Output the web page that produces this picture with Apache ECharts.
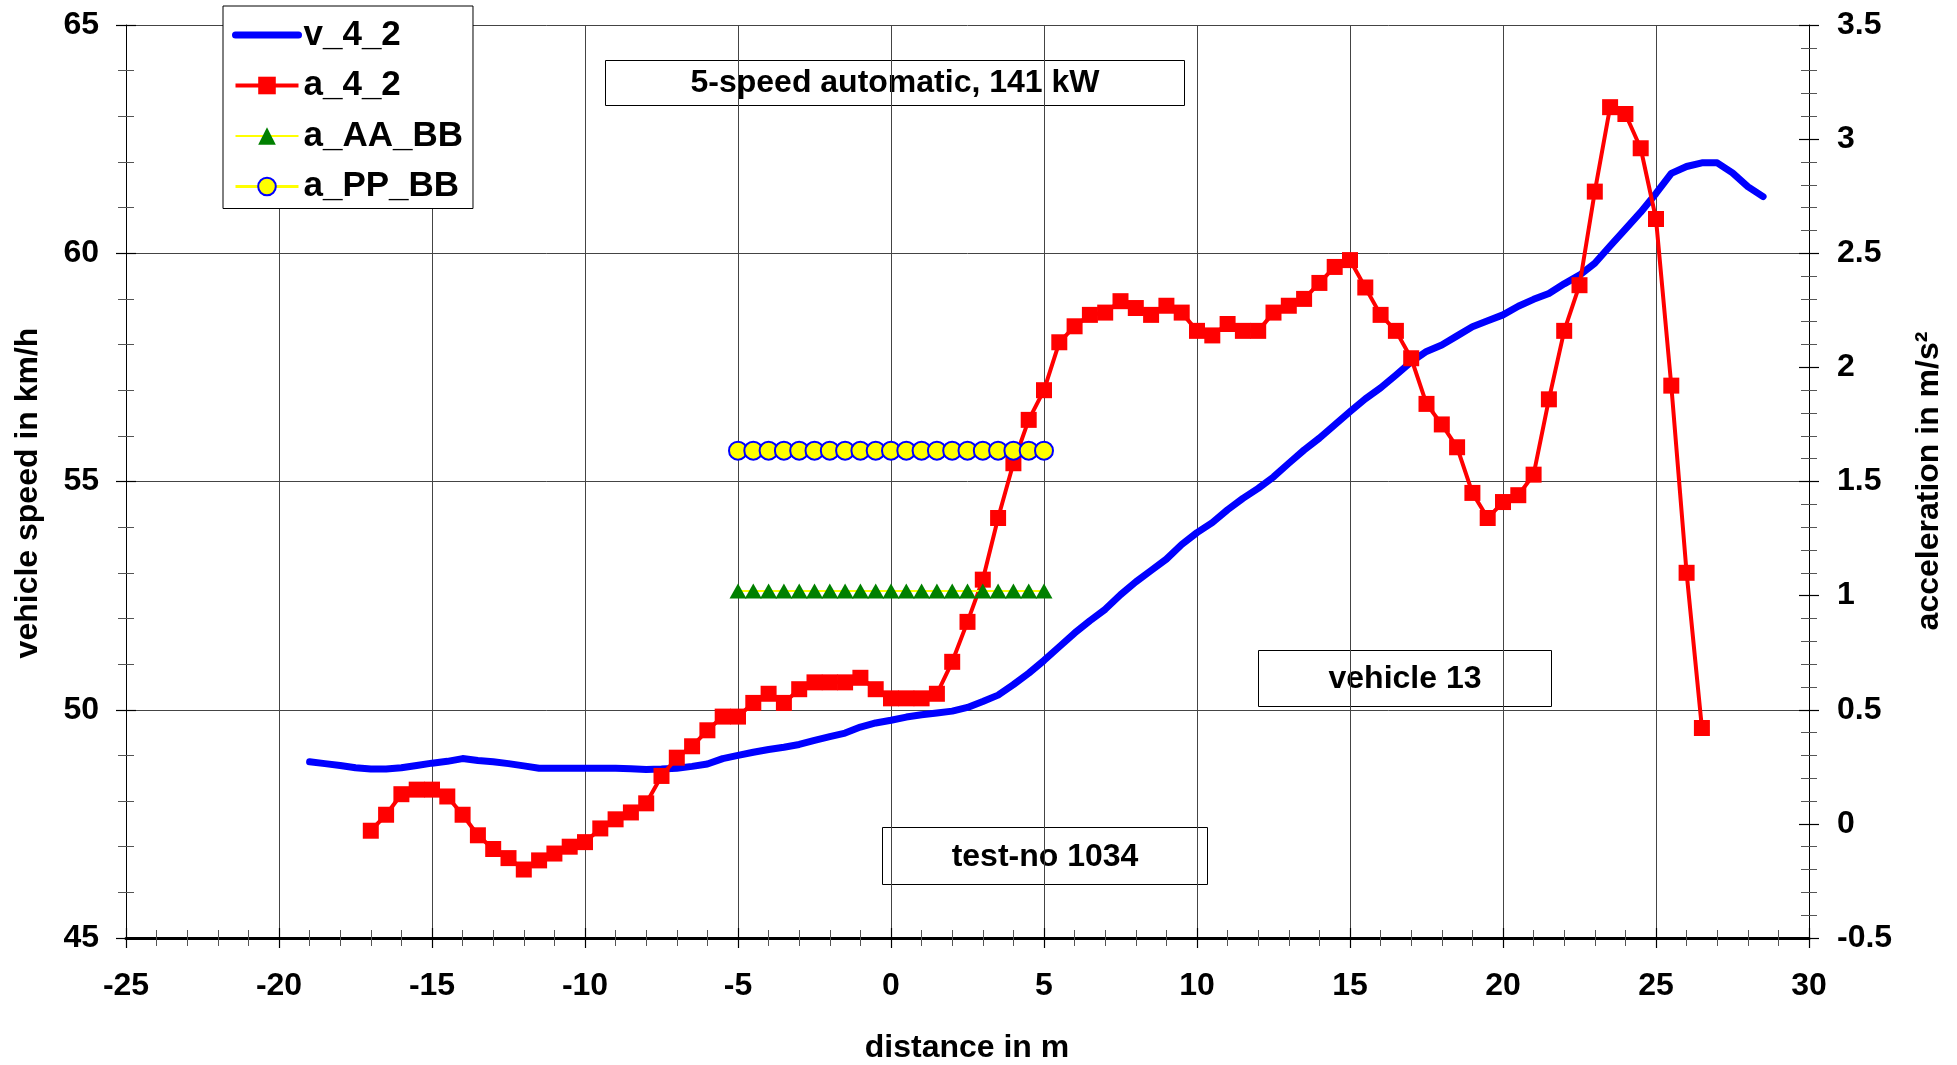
<!DOCTYPE html>
<html>
<head>
<meta charset="utf-8">
<title>Vehicle speed and acceleration over distance</title>
<script src="https://cdn.jsdelivr.net/npm/echarts@6/dist/echarts.min.js"></script>
<style>
  html, body { margin: 0; padding: 0; background: #fff; }
  #chart { width: 1957px; height: 1065px; }
</style>
</head>
<body>
<div id="chart"></div>
<script>
// Distance axis ticks (m)
const distanceTicks = [-25, -20, -15, -10, -5, 0, 5, 10, 15, 20, 25, 30];
// Speed axis ticks (km/h)
const speedTicks = [45, 50, 55, 60, 65];
// Acceleration axis ticks (m/s²)
const accelTicks = [-0.5, 0, 0.5, 1, 1.5, 2, 2.5, 3, 3.5];

// v_4_2: vehicle speed in km/h
const speedDist = [
  -19, -18.5, -18, -17.5, -17, -16.5, -16, -15.5, -15, -14.5,
  -14, -13.5, -13, -12.5, -12, -11.5, -11, -10.5, -10, -9.5,
  -9, -8.5, -8, -7.5, -7, -6.5, -6, -5.5, -5, -4.5,
  -4, -3.5, -3, -2.5, -2, -1.5, -1, -0.5, 0, 0.5,
  1, 1.5, 2, 2.5, 3, 3.5, 4, 4.5, 5, 5.5,
  6, 6.5, 7, 7.5, 8, 8.5, 9, 9.5, 10, 10.5,
  11, 11.5, 12, 12.5, 13, 13.5, 14, 14.5, 15, 15.5,
  16, 16.5, 17, 17.5, 18, 18.5, 19, 19.5, 20, 20.5,
  21, 21.5, 22, 22.5, 23, 23.5, 24, 24.5, 25, 25.5,
  26, 26.5, 27, 27.5, 28, 28.5
];
const speedValues = [
  48.86, 48.82, 48.78, 48.73, 48.70, 48.70, 48.73, 48.78, 48.83, 48.87,
  48.93, 48.89, 48.86, 48.82, 48.77, 48.72, 48.72, 48.72, 48.72, 48.72,
  48.72, 48.71, 48.69, 48.70, 48.72, 48.76, 48.81, 48.93, 49.00, 49.07,
  49.13, 49.18, 49.24, 49.33, 49.41, 49.49, 49.62, 49.71, 49.77, 49.84,
  49.89, 49.93, 49.97, 50.05, 50.18, 50.32, 50.55, 50.80, 51.08, 51.38,
  51.68, 51.95, 52.20, 52.52, 52.80, 53.05, 53.30, 53.62, 53.88, 54.10,
  54.38, 54.63, 54.85, 55.10, 55.40, 55.69, 55.95, 56.24, 56.53, 56.81,
  57.05, 57.33, 57.62, 57.85, 57.99, 58.19, 58.39, 58.52, 58.65, 58.84,
  58.99, 59.12, 59.33, 59.52, 59.78, 60.16, 60.53, 60.90, 61.31, 61.75,
  61.90, 61.98, 61.98, 61.76, 61.46, 61.24
];

// a_4_2: measured acceleration in m/s²
const accelDist = [
  -17, -16.5, -16, -15.5, -15, -14.5, -14, -13.5, -13, -12.5,
  -12, -11.5, -11, -10.5, -10, -9.5, -9, -8.5, -8, -7.5,
  -7, -6.5, -6, -5.5, -5, -4.5, -4, -3.5, -3, -2.5,
  -2, -1.5, -1, -0.5, 0, 0.5, 1, 1.5, 2, 2.5,
  3, 3.5, 4, 4.5, 5, 5.5, 6, 6.5, 7, 7.5,
  8, 8.5, 9, 9.5, 10, 10.5, 11, 11.5, 12, 12.5,
  13, 13.5, 14, 14.5, 15, 15.5, 16, 16.5, 17, 17.5,
  18, 18.5, 19, 19.5, 20, 20.5, 21, 21.5, 22, 22.5,
  23, 23.5, 24, 24.5, 25, 25.5, 26, 26.5
];
const accelValues = [
  -0.03, 0.04, 0.13, 0.15, 0.15, 0.12, 0.04, -0.05, -0.11, -0.15,
  -0.20, -0.16, -0.13, -0.10, -0.08, -0.02, 0.02, 0.05, 0.09, 0.21,
  0.29, 0.34, 0.41, 0.47, 0.47, 0.53, 0.57, 0.53, 0.59, 0.62,
  0.62, 0.62, 0.64, 0.59, 0.55, 0.55, 0.55, 0.57, 0.71, 0.885,
  1.07, 1.34, 1.58, 1.77, 1.90, 2.11, 2.18, 2.23, 2.24, 2.29,
  2.26, 2.23, 2.27, 2.24, 2.16, 2.14, 2.19, 2.16, 2.16, 2.24,
  2.27, 2.30, 2.37, 2.44, 2.47, 2.35, 2.23, 2.16, 2.04, 1.84,
  1.75, 1.65, 1.45, 1.34, 1.41, 1.44, 1.53, 1.86, 2.16, 2.36,
  2.77, 3.14, 3.11, 2.96, 2.65, 1.92, 1.10, 0.42
];

// Reference window from -5 m to 5 m
const refDist = [
  -5, -4.5, -4, -3.5, -3, -2.5, -2, -1.5, -1, -0.5, 0,
  0.5, 1, 1.5, 2, 2.5, 3, 3.5, 4, 4.5, 5
];
// a_AA_BB: mean acceleration AA–BB
const accelAA = [
  1.02, 1.02, 1.02, 1.02, 1.02, 1.02, 1.02, 1.02, 1.02, 1.02, 1.02,
  1.02, 1.02, 1.02, 1.02, 1.02, 1.02, 1.02, 1.02, 1.02, 1.02
];
// a_PP_BB: mean acceleration PP–BB
const accelPP = [
  1.635, 1.635, 1.635, 1.635, 1.635, 1.635, 1.635, 1.635, 1.635, 1.635, 1.635,
  1.635, 1.635, 1.635, 1.635, 1.635, 1.635, 1.635, 1.635, 1.635, 1.635
];

const FONT = '"Liberation Sans", Arial, Helvetica, sans-serif';
const zip = (xs, ys) => xs.map((x, i) => [x, ys[i]]);

const tickFont = { fontSize: 32, fontWeight: 'bold', color: '#000', fontFamily: FONT };

function valueAxis(min, max, interval, extra) {
  return Object.assign({
    type: 'value',
    min: min,
    max: max,
    interval: interval,
    axisLine: { show: false, onZero: false },
    axisTick: { show: true, length: 10, lineStyle: { color: '#000', width: 1.2 } },
    minorTick: { show: true, splitNumber: 5, length: 8, lineStyle: { color: '#555', width: 1 } },
    splitLine: { show: false },
    axisLabel: { show: false }
  }, extra);
}

const xMin = distanceTicks[0], xMax = distanceTicks[distanceTicks.length - 1];
const vMin = speedTicks[0], vMax = speedTicks[speedTicks.length - 1];
const aMin = accelTicks[0], aMax = accelTicks[accelTicks.length - 1];

const option = {
  animation: false,
  backgroundColor: '#fff',
  grid: { left: 126, right: 148, top: 25, bottom: 127, containLabel: false, outerBoundsMode: 'none' },
  xAxis: [
    valueAxis(xMin, xMax, 5, {
      position: 'bottom',
      axisLine: { show: true, onZero: false, lineStyle: { color: '#000', width: 3 } },
      splitLine: { show: true, lineStyle: { color: '#444', width: 1 } },
      axisLabel: Object.assign({ show: true, margin: 32 }, tickFont)
    }),
    valueAxis(xMin, xMax, 5, {
      position: 'bottom',
      axisTick: { show: true, inside: true, length: 10, lineStyle: { color: '#000', width: 1.2 } }
    })
  ],
  yAxis: [
    valueAxis(vMin, vMax, 5, {
      position: 'left',
      axisLine: { show: true, onZero: false, lineStyle: { color: '#000', width: 1 } },
      splitLine: { show: true, lineStyle: { color: '#444', width: 1 } },
      axisLabel: Object.assign({ show: true, margin: 27 }, tickFont)
    }),
    valueAxis(vMin, vMax, 5, {
      position: 'left',
      axisTick: { show: true, inside: true, length: 10, lineStyle: { color: '#000', width: 1.2 } }
    }),
    valueAxis(aMin, aMax, 0.5, {
      position: 'right',
      axisLine: { show: true, onZero: false, lineStyle: { color: '#000', width: 1 } },
      axisLabel: Object.assign({ show: true, margin: 28 }, tickFont)
    }),
    valueAxis(aMin, aMax, 0.5, {
      position: 'right',
      axisTick: { show: true, inside: true, length: 10, lineStyle: { color: '#000', width: 1.2 } }
    })
  ],
  legend: {
    orient: 'vertical',
    left: 223,
    top: 6,
    padding: [10, 10, 3, 9],
    itemGap: 12.5,
    itemWidth: 63,
    itemHeight: 22,
    backgroundColor: '#fff',
    borderColor: '#000',
    borderWidth: 1,
    textStyle: { fontSize: 35, fontWeight: 'bold', color: '#000', fontFamily: FONT, lineHeight: 38 },
    data: [
      { name: 'v_4_2', itemStyle: { opacity: 0 }, lineStyle: { width: 7 } },
      { name: 'a_4_2', lineStyle: { width: 4 } },
      { name: 'a_AA_BB', lineStyle: { width: 2 } },
      { name: 'a_PP_BB', lineStyle: { width: 3 } }
    ]
  },
  series: [
    {
      name: 'v_4_2',
      type: 'line',
      xAxisIndex: 0,
      yAxisIndex: 0,
      data: zip(speedDist, speedValues),
      symbol: 'none',
      lineStyle: { color: '#0000ff', width: 7, cap: 'round', join: 'round' },
      itemStyle: { color: '#0000ff' },
      z: 3
    },
    {
      name: 'a_4_2',
      type: 'line',
      xAxisIndex: 0,
      yAxisIndex: 2,
      data: zip(accelDist, accelValues),
      symbol: 'rect',
      symbolSize: 16,
      showAllSymbol: true,
      lineStyle: { color: '#ff0000', width: 4 },
      itemStyle: { color: '#ff0000' },
      z: 4
    },
    {
      name: 'a_AA_BB',
      type: 'line',
      xAxisIndex: 0,
      yAxisIndex: 2,
      data: zip(refDist, accelAA),
      symbol: 'triangle',
      symbolSize: [17, 15],
      showAllSymbol: true,
      lineStyle: { color: '#ffff00', width: 2 },
      itemStyle: { color: '#008000' },
      z: 5
    },
    {
      name: 'a_PP_BB',
      type: 'line',
      xAxisIndex: 0,
      yAxisIndex: 2,
      data: zip(refDist, accelPP),
      symbol: 'circle',
      symbolSize: 18,
      showAllSymbol: true,
      lineStyle: { color: '#ffff00', width: 2 },
      itemStyle: { color: '#ffff00', borderColor: '#0000ff', borderWidth: 2 },
      z: 6
    }
  ],
  graphic: [
    // Axis titles
    {
      type: 'text', x: 28, y: 493, rotation: Math.PI / 2, z: 10,
      style: { text: 'vehicle speed in km/h', align: 'center', verticalAlign: 'middle',
               fontSize: 32, fontWeight: 'bold', fontFamily: FONT, fill: '#000' }
    },
    {
      type: 'text', x: 1929, y: 481, rotation: Math.PI / 2, z: 10,
      style: { text: 'acceleration in m/s²', align: 'center', verticalAlign: 'middle',
               fontSize: 32, fontWeight: 'bold', fontFamily: FONT, fill: '#000' }
    },
    {
      type: 'text', x: 967, y: 1048, z: 10,
      style: { text: 'distance in m', align: 'center', verticalAlign: 'middle',
               fontSize: 32, fontWeight: 'bold', fontFamily: FONT, fill: '#000' }
    },
    // Annotation boxes
    {
      type: 'group', z: 20,
      children: [
        { type: 'rect', shape: { x: 605.5, y: 60.5, width: 579, height: 45 },
          style: { fill: '#fff', stroke: '#000', lineWidth: 1 } },
        { type: 'text', x: 895, y: 83,
          style: { text: '5-speed automatic, 141 kW', align: 'center', verticalAlign: 'middle',
                   fontSize: 32, fontWeight: 'bold', fontFamily: FONT, fill: '#000' } }
      ]
    },
    {
      type: 'group', z: 20,
      children: [
        { type: 'rect', shape: { x: 1258.5, y: 650.5, width: 293, height: 56 },
          style: { fill: '#fff', stroke: '#000', lineWidth: 1 } },
        { type: 'text', x: 1405, y: 679,
          style: { text: 'vehicle 13', align: 'center', verticalAlign: 'middle',
                   fontSize: 32, fontWeight: 'bold', fontFamily: FONT, fill: '#000' } }
      ]
    },
    {
      type: 'group', z: 20,
      children: [
        { type: 'rect', shape: { x: 882.5, y: 827.5, width: 325, height: 57 },
          style: { fill: '#fff', stroke: '#000', lineWidth: 1 } },
        { type: 'text', x: 1045, y: 857,
          style: { text: 'test-no 1034', align: 'center', verticalAlign: 'middle',
                   fontSize: 32, fontWeight: 'bold', fontFamily: FONT, fill: '#000' } }
      ]
    }
  ]
};

const chart = echarts.init(document.getElementById('chart'), null, { renderer: 'canvas' });
chart.setOption(option);
</script>
</body>
</html>
